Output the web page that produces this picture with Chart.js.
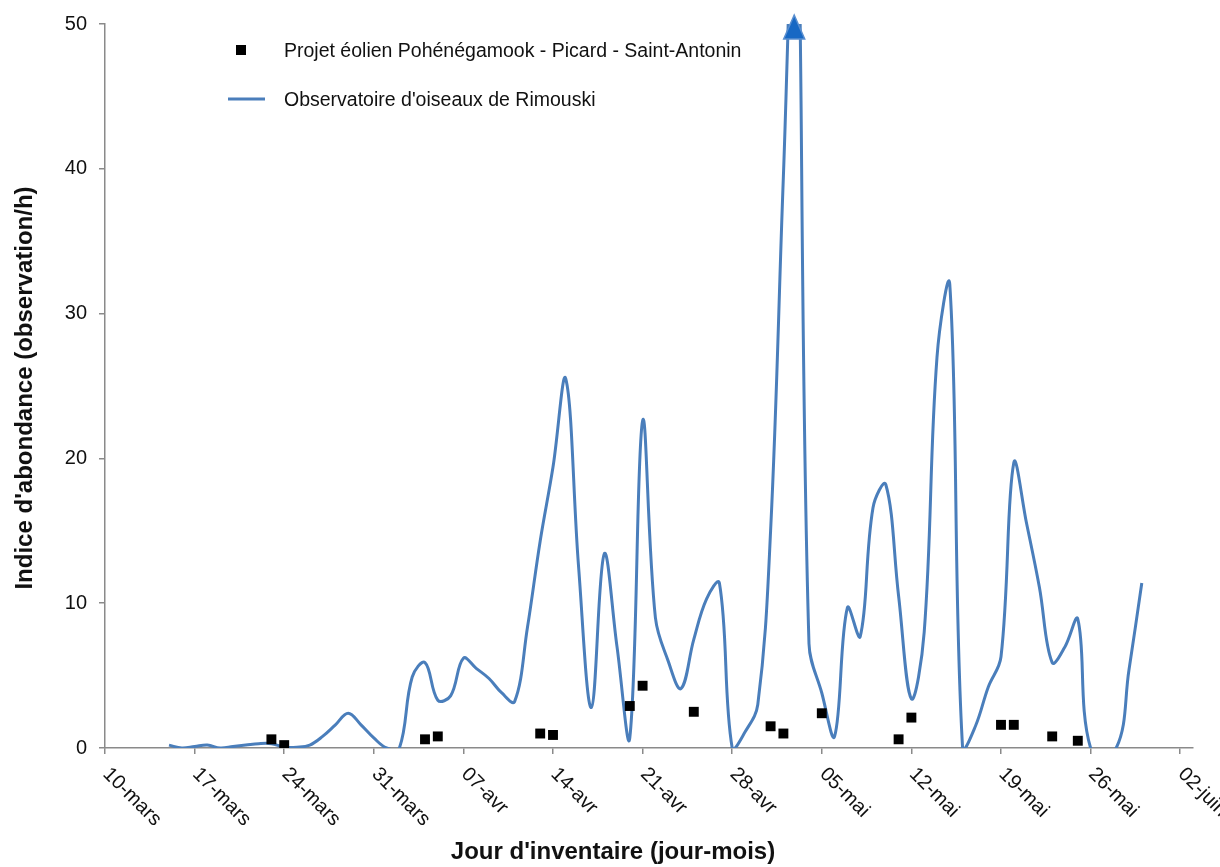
<!DOCTYPE html>
<html lang="fr">
<head>
<meta charset="utf-8">
<title>Indice d'abondance</title>
<script src="https://cdn.jsdelivr.net/npm/chart.js@4.4.1/dist/chart.umd.min.js"></script>
<style>
  html, body { margin: 0; padding: 0; background: #ffffff; overflow: hidden; }
  canvas { display: block; }
</style>
</head>
<body>
<canvas id="chart" width="1220" height="867"></canvas>
<script>
// Axe des x : nombre de jours depuis le 10 mars
const tickDays   = [0, 7, 14, 21, 28, 35, 42, 49, 56, 63, 70, 77, 84];
const tickLabels = ["10-mars", "17-mars", "24-mars", "31-mars", "07-avr", "14-avr", "21-avr",
                    "28-avr", "05-mai", "12-mai", "19-mai", "26-mai", "02-juin"];
const xMaxDay = 85;
const yMax = 50;
const yStep = 10;

// Observatoire d'oiseaux de Rimouski (observation/h)
const rimouskiDays = [5, 6, 7, 8, 9, 10, 11, 12, 13, 14, 15, 16, 17, 18, 19, 20, 21, 22, 23, 24,
                      25, 26, 27, 28, 29, 30, 31, 32, 33, 34, 35, 36, 37, 38, 39, 40, 41, 42, 43, 44,
                      45, 46, 47, 48, 49, 50, 51, 52, 53, 54, 55, 56, 57, 58, 59, 60, 61, 62, 63, 64,
                      65, 66, 67, 68, 69, 70, 71, 72, 73, 74, 75, 76, 77, 79, 80, 81];
const rimouskiValues = [0.2, 0.0, 0.1, 0.2, 0.0, 0.1, 0.2, 0.3, 0.3, 0.05, 0.05, 0.2, 0.8, 1.6, 2.4, 1.6, 0.7, 0.0, 0.0, 4.9,
                        5.9, 3.3, 3.6, 6.2, 5.5, 4.8, 3.8, 3.2, 8.3, 14.3, 19.4, 25.5, 12.5, 2.8, 13.4, 7.0, 0.7, 22.6, 9.0, 6.0,
                        4.1, 7.5, 10.3, 11.4, 0.0, 1.1, 3.0, 15.0, 39.5, 62.0, 7.2, 3.8, 0.8, 9.7, 7.7, 16.6, 18.2, 10.5, 3.4, 8.0,
                        27.0, 32.0, 0.0, 1.5, 4.2, 6.3, 19.7, 15.5, 11.1, 5.9, 7.0, 8.9, 0.0, 0.0, 5.4, 11.4];

// Projet éolien Pohénégamook - Picard - Saint-Antonin (observation/h)
const projetDays   = [13, 14, 25, 26, 34, 35, 41, 42, 46, 52, 53, 56, 62, 63, 70, 71, 74, 76];
const projetValues = [0.6, 0.2, 0.6, 0.8, 1.0, 0.9, 2.9, 4.3, 2.5, 1.5, 1.0, 2.4, 0.6, 2.1, 1.6, 1.6, 0.8, 0.5];

const seriesNames = ["Projet éolien Pohénégamook - Picard - Saint-Antonin",
                     "Observatoire d'oiseaux de Rimouski"];
const axisTitleX = "Jour d'inventaire (jour-mois)";
const axisTitleY = "Indice d'abondance (observation/h)";

const FONT = '"Liberation Sans", Arial, Helvetica, sans-serif';
const LINE_BLUE = '#4A7EBB';
const AXIS_GREY = '#8A8A8A';
const TEXT = '#111111';

const toPoints = (xs, ys) => xs.map((x, i) => ({ x: x, y: ys[i] }));

// Étiquettes inclinées, titres d'axes, légende et flèche du pic hors échelle
const decorations = {
  id: 'decorations',
  afterDatasetsDraw(chart) {
    const ctx = chart.ctx;
    const xs = chart.scales.x, ys = chart.scales.y;
    const area = chart.chartArea;

    // flèche au sommet du pic qui dépasse l'échelle
    let iPeak = 0;
    rimouskiValues.forEach((v, i) => { if (v > rimouskiValues[iPeak]) iPeak = i; });
    if (rimouskiValues[iPeak] > ys.max) {
      const px = xs.getPixelForValue(rimouskiDays[iPeak]) - 2;
      const top = ys.getPixelForValue(ys.max);
      ctx.save();
      ctx.beginPath();
      ctx.moveTo(px, top - 9);
      ctx.lineTo(px + 10.5, top + 15);
      ctx.lineTo(px - 10.5, top + 15);
      ctx.closePath();
      ctx.fillStyle = '#1768C4';
      ctx.fill();
      ctx.lineWidth = 1.5;
      ctx.strokeStyle = '#5A8FD0';
      ctx.stroke();
      ctx.restore();
    }

    // légende
    ctx.save();
    ctx.font = '19.5px ' + FONT;
    ctx.textAlign = 'left';
    ctx.textBaseline = 'alphabetic';
    const lx = area.left + 123, tx = area.left + 179;
    const y1 = area.top + 26, y2 = area.top + 75;
    ctx.fillStyle = '#000';
    ctx.fillRect(lx + 13 - 5, y1 - 5, 10, 10);
    ctx.fillStyle = TEXT;
    ctx.fillText(seriesNames[0], tx, y1 + 7);
    ctx.beginPath();
    ctx.moveTo(lx, y2);
    ctx.lineTo(lx + 37, y2);
    ctx.strokeStyle = LINE_BLUE;
    ctx.lineWidth = 3;
    ctx.stroke();
    ctx.fillText(seriesNames[1], tx, y2 + 7);
    ctx.restore();
  },
  afterDraw(chart) {
    const ctx = chart.ctx;
    const xs = chart.scales.x;
    const area = chart.chartArea;

    // étiquettes de dates inclinées à 45°
    ctx.save();
    ctx.font = '20px ' + FONT;
    ctx.fillStyle = TEXT;
    ctx.textAlign = 'left';
    ctx.textBaseline = 'middle';
    xs.ticks.forEach((t, i) => {
      const px = xs.getPixelForValue(t.value);
      ctx.save();
      ctx.translate(px + 1, xs.top + 23);
      ctx.rotate(Math.PI / 4);
      ctx.fillText(tickLabels[i], 0, 0);
      ctx.restore();
    });
    ctx.restore();

    // titres des axes
    ctx.save();
    ctx.font = 'bold 24px ' + FONT;
    ctx.fillStyle = TEXT;
    ctx.textAlign = 'center';
    ctx.textBaseline = 'alphabetic';
    ctx.fillText(axisTitleX, chart.width / 2 + 3, chart.height - 8);
    ctx.translate(32, (area.top + area.bottom) / 2 + 2);
    ctx.rotate(-Math.PI / 2);
    ctx.fillText(axisTitleY, 0, 0);
    ctx.restore();
  }
};

new Chart(document.getElementById('chart'), {
  type: 'line',
  data: {
    datasets: [
      {
        label: seriesNames[0],
        data: toPoints(projetDays, projetValues),
        showLine: false,
        pointStyle: 'rect',
        pointRadius: 7,
        pointHoverRadius: 7,
        pointBackgroundColor: '#000000',
        pointBorderWidth: 0,
        borderColor: '#000000',
        backgroundColor: '#000000'
      },
      {
        label: seriesNames[1],
        data: toPoints(rimouskiDays, rimouskiValues),
        borderColor: LINE_BLUE,
        backgroundColor: LINE_BLUE,
        borderWidth: 3,
        pointRadius: 0,
        pointHoverRadius: 0,
        tension: 0.38,
        capBezierPoints: false,
        fill: false,
        clip: { left: 10, top: 0, right: 10, bottom: 0 }
      }
    ]
  },
  options: {
    responsive: false,
    devicePixelRatio: 1,
    animation: false,
    events: [],
    layout: { padding: { left: 0, top: 24, right: 27, bottom: 0 } },
    plugins: {
      legend: { display: false },
      tooltip: { enabled: false },
      title: { display: false }
    },
    scales: {
      x: {
        type: 'linear',
        min: 0,
        max: xMaxDay,
        afterBuildTicks: s => { s.ticks = tickDays.map(v => ({ value: v })); },
        afterFit: s => { s.height = 119; },
        ticks: { display: false },
        grid: {
          display: true,
          drawOnChartArea: false,
          drawTicks: true,
          tickLength: 6,
          color: AXIS_GREY,
          lineWidth: 1.5
        },
        border: { display: true, color: AXIS_GREY, width: 1.5 }
      },
      y: {
        type: 'linear',
        min: 0,
        max: yMax,
        afterFit: s => { s.width = 105; },
        ticks: {
          stepSize: yStep,
          padding: 12,
          color: TEXT,
          font: { family: FONT, size: 20 }
        },
        grid: {
          display: true,
          drawOnChartArea: false,
          drawTicks: true,
          tickLength: 6,
          color: AXIS_GREY,
          lineWidth: 1.5
        },
        border: { display: true, color: AXIS_GREY, width: 1.5 }
      }
    }
  },
  plugins: [decorations]
});
</script>
</body>
</html>
